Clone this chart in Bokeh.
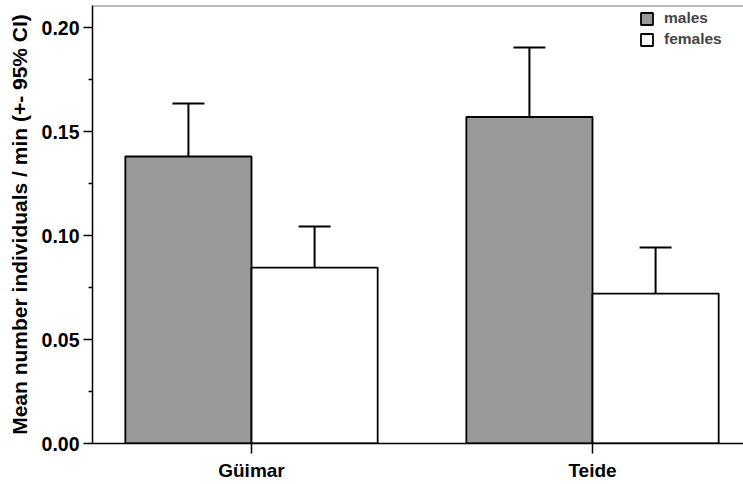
from bokeh.plotting import figure
from bokeh.models import (ColumnDataSource, Range1d, FixedTicker, Whisker, TeeHead,
                          Span, Legend, LegendItem, NumeralTickFormatter)
from bokeh.embed import file_html
from bokeh.resources import INLINE

# ---- data ----
sites = ["Güimar", "Teide"]
males_mean = [0.138, 0.157]
males_ci_upper = [0.1635, 0.1904]
females_mean = [0.0846, 0.0721]
females_ci_upper = [0.1043, 0.0942]
y_ticks = [0.00, 0.05, 0.10, 0.15, 0.20]
y_minor_ticks = [0.025, 0.075, 0.125, 0.175]
series_labels = ["males", "females"]

# ---- layout constants ----
BAR_W = 0.37
OFF = BAR_W / 2
FONT = "Liberation Sans"
Y_TOP = 0.2106

xs = [i + 1 for i in range(len(sites))]
src_m = ColumnDataSource(dict(x=[x - OFF for x in xs], top=males_mean, up=males_ci_upper))
src_f = ColumnDataSource(dict(x=[x + OFF for x in xs], top=females_mean, up=females_ci_upper))

p = figure(width=743, height=484, output_backend="svg", toolbar_location=None,
           x_range=Range1d(0.5337, 2.4428), y_range=Range1d(0, Y_TOP),
           min_border_left=92, min_border_right=0, min_border_top=5, min_border_bottom=41)

p.outline_line_color = None
p.xgrid.visible = False
p.ygrid.visible = False
p.background_fill_color = "white"

rm = p.vbar(x="x", top="top", width=BAR_W, bottom=0, source=src_m,
            fill_color="#999999", line_color="black", line_width=1.8)
rf = p.vbar(x="x", top="top", width=BAR_W, bottom=0, source=src_f,
            fill_color="white", line_color="black", line_width=1.8)

for src in (src_m, src_f):
    w = Whisker(base="x", upper="up", lower="top", source=src,
                upper_head=TeeHead(size=32, line_color="black", line_width=2),
                lower_head=None, line_color="black", line_width=2)
    p.add_layout(w)

# top frame line
p.add_layout(Span(location=Y_TOP, dimension="width", line_color="#7a7a7a", line_width=2))

# y axis
yax = p.yaxis[0]
yax.ticker = FixedTicker(ticks=y_ticks, minor_ticks=y_minor_ticks)
yax.formatter = NumeralTickFormatter(format="0.00")
yax.axis_label = "Mean number individuals / min (+- 95% CI)"
yax.axis_label_text_font = FONT
yax.axis_label_text_font_style = "bold"
yax.axis_label_text_font_size = "21px"
yax.axis_label_text_color = "black"
yax.axis_label_standoff = 8
yax.major_label_text_font = FONT
yax.major_label_text_font_style = "bold"
yax.major_label_text_font_size = "19.5px"
yax.major_label_text_color = "black"
yax.major_label_standoff = 4
yax.major_tick_in = 0
yax.major_tick_out = 9
yax.minor_tick_in = 0
yax.minor_tick_out = 4
yax.axis_line_color = "black"
yax.axis_line_width = 1.5
yax.major_tick_line_width = 1.5
yax.minor_tick_line_width = 1.5

# x axis
xax = p.xaxis[0]
xax.ticker = FixedTicker(ticks=xs, minor_ticks=[])
xax.major_label_overrides = {x: s for x, s in zip(xs, sites)}
xax.major_label_text_font = FONT
xax.major_label_text_font_style = "bold"
xax.major_label_text_font_size = "19px"
xax.major_label_text_color = "black"
xax.major_label_standoff = 6
xax.major_tick_in = 0
xax.major_tick_out = 10
xax.axis_line_color = "black"
xax.axis_line_width = 1.5
xax.major_tick_line_width = 1.5

legend = Legend(items=[LegendItem(label=series_labels[0], renderers=[rm]),
                       LegendItem(label=series_labels[1], renderers=[rf])],
                location="top_right", border_line_color=None, background_fill_alpha=0,
                glyph_width=15, glyph_height=15, label_height=15, spacing=3,
                label_standoff=10, label_width=75, padding=3, margin=4,
                label_text_font=FONT, label_text_font_style="bold",
                label_text_font_size="15.5px")
p.add_layout(legend)

open("out.html", "w").write(file_html(p, INLINE))
